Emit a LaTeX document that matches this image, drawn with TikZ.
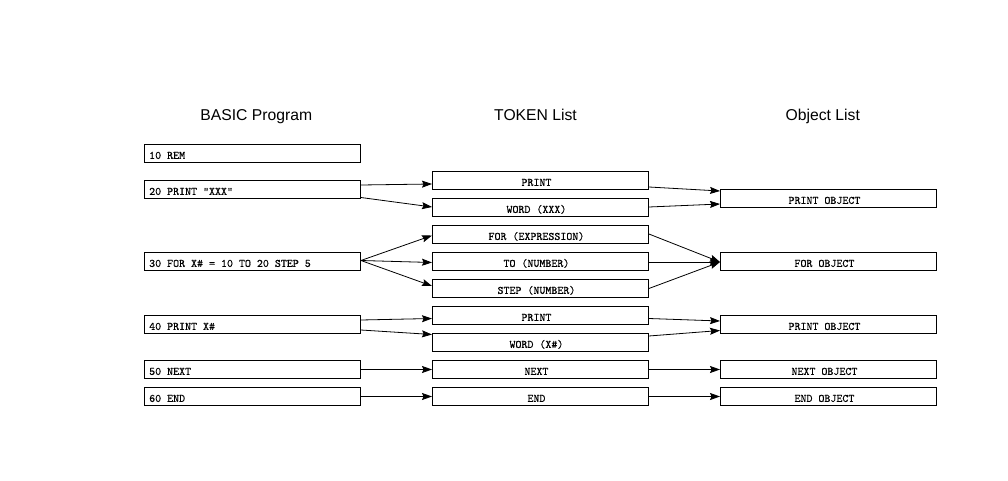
\documentclass[tikz,border=0pt]{standalone}
\usepackage{fontspec}
\setmainfont{Liberation Sans}
\newfontfamily\monof{lmmono10-regular.otf}[FakeBold=0.3]
\usetikzlibrary{arrows.meta}
\begin{document}
\begin{tikzpicture}[x=1pt,y=-1pt,
  box/.style={draw, line width=0.9pt, minimum width=216pt, minimum height=18pt, inner sep=0pt, anchor=north west},
  ltxt/.style={font=\monof\fontsize{11.4}{13}\selectfont, anchor=base west, inner sep=0pt},
  ctxt/.style={font=\monof\fontsize{11.4}{13}\selectfont, anchor=base, inner sep=0pt},
  head/.style={font=\fontsize{15.7}{18}\selectfont, anchor=base, inner sep=0pt},
  arr/.style={line width=0.8pt, -{Stealth[length=10pt,width=7pt,inset=1.5pt]}}]
\useasboundingbox (0,0) rectangle (1008,481);
\fill[white] (0,0) rectangle (1008,481);
% headers
\node[head] (h1) at (256.3,120.5) {BASIC Program};
\node[head] (h2) at (535.5,120.5) {TOKEN List};
\node[head] (h3) at (822.8,120.5) {Object List};
% left column
\node[box] (b10) at (144,144) {};
\node[box] (b20) at (144,180) {};
\node[box] (b30) at (144,252) {};
\node[box] (b40) at (144,315) {};
\node[box] (b50) at (144,360) {};
\node[box] (b60) at (144,387) {};
\node[ltxt] (b10t) at ([shift={(5pt,4pt)}]b10.south west) {10 REM};
\node[ltxt] (b20t) at ([shift={(5pt,4pt)}]b20.south west) {20 PRINT “XXX"};
\node[ltxt] (b30t) at ([shift={(5pt,4pt)}]b30.south west) {30 FOR X\# = 10 TO 20 STEP 5};
\node[ltxt] (b40t) at ([shift={(5pt,4pt)}]b40.south west) {40 PRINT X\#};
\node[ltxt] (b50t) at ([shift={(5pt,4pt)}]b50.south west) {50 NEXT};
\node[ltxt] (b60t) at ([shift={(5pt,4pt)}]b60.south west) {60 END};
% middle column
\node[box] (t1) at (432,171) {};
\node[box] (t2) at (432,198) {};
\node[box] (t3) at (432,225) {};
\node[box] (t4) at (432,252) {};
\node[box] (t5) at (432,279) {};
\node[box] (t6) at (432,306) {};
\node[box] (t7) at (432,333) {};
\node[box] (t8) at (432,360) {};
\node[box] (t9) at (432,387) {};
\node[ctxt] (t1t) at ([shift={(-4pt,4pt)}]t1.south) {PRINT};
\node[ctxt] (t2t) at ([shift={(-4pt,4pt)}]t2.south) {WORD (XXX)};
\node[ctxt] (t3t) at ([shift={(-4pt,4pt)}]t3.south) {FOR (EXPRESSION)};
\node[ctxt] (t4t) at ([shift={(-4pt,4pt)}]t4.south) {TO (NUMBER)};
\node[ctxt] (t5t) at ([shift={(-4pt,4pt)}]t5.south) {STEP (NUMBER)};
\node[ctxt] (t6t) at ([shift={(-4pt,4pt)}]t6.south) {PRINT};
\node[ctxt] (t7t) at ([shift={(-4pt,4pt)}]t7.south) {WORD (X\#)};
\node[ctxt] (t8t) at ([shift={(-4pt,4pt)}]t8.south) {NEXT};
\node[ctxt] (t9t) at ([shift={(-4pt,4pt)}]t9.south) {END};
% right column
\node[box] (o1) at (720,189) {};
\node[box] (o2) at (720,252) {};
\node[box] (o3) at (720,315) {};
\node[box] (o4) at (720,360) {};
\node[box] (o5) at (720,387) {};
\node[ctxt] (o1t) at ([shift={(-4pt,4pt)}]o1.south) {PRINT OBJECT};
\node[ctxt] (o2t) at ([shift={(-4pt,4pt)}]o2.south) {FOR OBJECT};
\node[ctxt] (o3t) at ([shift={(-4pt,4pt)}]o3.south) {PRINT OBJECT};
\node[ctxt] (o4t) at ([shift={(-4pt,4pt)}]o4.south) {NEXT OBJECT};
\node[ctxt] (o5t) at ([shift={(-4pt,4pt)}]o5.south) {END OBJECT};
% arrows left -> middle
\draw[arr] (b20.east |- 0,185) -- (t1.west |- 0,184);
\draw[arr] (b20.east |- 0,197.5) -- (t2.west |- 0,207);
\draw[arr] (b30.east |- 0,260.5) -- (t3.west |- 0,235.5);
\draw[arr] (b30.east |- 0,260.5) -- (t4.west |- 0,262.5);
\draw[arr] (b30.east |- 0,260.5) -- (t5.west |- 0,286);
\draw[arr] (b40.east |- 0,320) -- (t6.west |- 0,318.5);
\draw[arr] (b40.east |- 0,330) -- (t7.west |- 0,334.5);
\draw[arr] (b50.east |- 0,369.5) -- (t8.west |- 0,369.5);
\draw[arr] (b60.east |- 0,396.5) -- (t9.west |- 0,396.5);
% arrows middle -> right
\draw[arr] (t1.east |- 0,187) -- (o1.west |- 0,191);
\draw[arr] (t2.east |- 0,207) -- (o1.west |- 0,204);
\draw[arr] (t3.east |- 0,234) -- (o2.west |- 0,262);
\draw[arr] (t4.east |- 0,262) -- (o2.west |- 0,262);
\draw[arr] (t5.east |- 0,288.5) -- (o2.west |- 0,262);
\draw[arr] (t6.east |- 0,318.5) -- (o3.west |- 0,321);
\draw[arr] (t7.east |- 0,336) -- (o3.west |- 0,330.5);
\draw[arr] (t8.east |- 0,369.5) -- (o4.west |- 0,369.5);
\draw[arr] (t9.east |- 0,396.5) -- (o5.west |- 0,396.5);
\end{tikzpicture}
\end{document}
